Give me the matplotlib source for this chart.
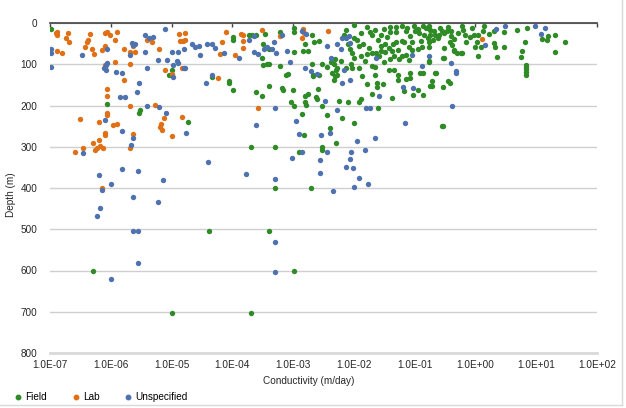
import numpy as np
import matplotlib
matplotlib.use('Agg')
import matplotlib.pyplot as plt
from matplotlib.lines import Line2D
from matplotlib.ticker import FuncFormatter, NullLocator

plt.rcParams['font.family'] = ['Liberation Sans', 'DejaVu Sans']
plt.rcParams['font.size'] = 7.2

# (log10 conductivity in m/day, depth in m)
field_points = [
    (-6.99, 14), (-5.00, 115), (-5.05, 126), (-6.06, 196), (-5.52, 210), (-5.53, 217),
    (-4.73, 240), (-6.29, 601), (-4.39, 504), (-5.00, 702), (-3.69, 702),
    (-3.99, 34), (-3.99, 42), (-3.73, 28), (-3.67, 29), (-3.61, 29), (-3.46, 26),
    (-3.49, 50), (-3.40, 64), (-3.51, 84), (-3.50, 102), (-3.43, 100), (-3.39, 99),
    (-3.21, 21), (-3.20, 29), (-2.99, 11), (-2.99, 21), (-2.99, 70), (-2.84, 68),
    (-2.76, 68), (-2.81, 50), (-2.69, 28), (-2.66, 45), (-2.58, 44), (-2.69, 100),
    (-2.53, 100), (-3.22, 104), (-3.11, 126), (-3.09, 124), (-2.68, 126), (-2.67, 129),
    (-2.58, 126), (-4.06, 140), (-4.06, 145), (-4.33, 131), (-3.99, 162), (-3.61, 168),
    (-3.52, 178), (-3.39, 152), (-3.18, 157), (-3.17, 163), (-3.00, 163), (-2.75, 172),
    (-2.80, 177), (-2.62, 180), (-2.60, 185), (-2.59, 161), (-3.04, 191), (-2.98, 201),
    (-2.80, 191), (-2.78, 199), (-2.52, 201), (-2.85, 220),
    (-3.69, 301), (-3.29, 301), (-3.29, 401), (-3.39, 504), (-2.99, 601), (-2.82, 271),
    (-2.91, 313), (-2.70, 401), (-2.52, 301), (-2.53, 308),
    (-2.39, 255), (-2.29, 290), (-0.55, 250),
    (-2.00, 5), (-1.78, 10), (-1.65, 18), (-1.51, 14), (-1.40, 10), (-1.40, 21),
    (-1.30, 10), (-1.30, 21), (-1.30, 45), (-1.21, 44), (-1.73, 21), (-1.70, 28),
    (-1.89, 24), (-2.13, 16), (-2.17, 29), (-2.00, 36), (-1.92, 56), (-2.06, 64),
    (-2.03, 72), (-2.00, 86), (-2.09, 52), (-1.89, 80), (-1.78, 75), (-1.70, 72),
    (-1.64, 72), (-1.59, 80), (-1.56, 68), (-1.49, 70), (-1.48, 52), (-1.37, 68),
    (-1.34, 80), (-1.28, 66), (-1.40, 88), (-2.31, 88), (-2.22, 91), (-2.45, 107),
    (-2.31, 129), (-2.33, 139), (-2.28, 108), (-2.13, 110), (-2.03, 108), (-1.92, 108),
    (-1.81, 91), (-1.70, 104), (-1.65, 107), (-1.78, 149), (-1.86, 129), (-1.65, 126),
    (-1.62, 146), (-1.62, 155), (-1.52, 147), (-1.43, 114), (-1.34, 115), (-1.28, 125),
    (-1.28, 139), (-1.71, 173), (-1.89, 185), (-1.92, 191), (-2.09, 191), (-2.25, 188),
    (-1.61, 206), (-2.19, 230), (-2.45, 224), (-2.00, 242), (-1.37, 181),
    (-1.95, 40), (-1.85, 50), (-1.60, 40), (-1.55, 55), (-1.45, 35), (-2.05, 100),
    (-1.75, 60), (-1.50, 95), (-2.38, 95), (-2.33, 100), (-2.30, 115), (-2.36, 120),
    (-2.27, 125), (-1.42, 60), (-1.35, 50), (-1.25, 88), (-1.55, 30),
    (-1.21, 8), (-1.15, 20), (-1.18, 45), (-1.01, 8), (-0.99, 20), (-1.07, 32),
    (-1.04, 45), (-1.10, 57), (-1.15, 77), (-1.10, 89), (-1.21, 79), (-0.93, 24),
    (-0.87, 8), (-0.82, 12), (-0.77, 8), (-0.74, 16), (-0.68, 20), (-0.66, 28),
    (-0.74, 28), (-0.78, 36), (-0.77, 45), (-0.88, 57), (-0.76, 57), (-0.76, 93),
    (-0.52, 85), (-0.52, 61), (-0.60, 28), (-0.55, 20), (-0.52, 24), (-0.47, 20),
    (-0.41, 20), (-0.40, 32), (-0.42, 45), (-0.38, 53), (-0.35, 65), (-0.30, 73),
    (-0.22, 73), (-0.22, 8), (-0.21, 16), (-0.17, 28), (-0.09, 34), (-0.03, 28),
    (0.05, 28), (0.00, 58), (0.09, 58), (0.04, 81), (0.14, 8), (0.22, 27),
    (0.30, 20), (0.31, 49), (0.32, 57), (0.47, 22), (0.47, 59), (0.35, 83),
    (0.69, 16), (0.85, 12), (0.82, 46), (0.76, 69), (0.75, 83), (0.83, 101),
    (0.83, 106), (0.83, 112), (0.83, 118), (0.83, 125), (1.10, 38), (1.17, 42),
    (1.19, 31), (1.31, 30), (1.48, 45), (1.31, 71), (-0.53, 156), (-0.45, 140),
    (-0.42, 145), (-0.71, 140), (-0.74, 152), (-0.66, 121), (-0.95, 162), (-1.03, 174),
    (-0.86, 174), (-0.91, 120), (-1.07, 120), (-1.07, 134), (-1.14, 136), (-1.17, 164),
    (-0.54, 249), (-0.76, 94), (-0.54, 86), (-0.36, 68), (-0.23, 72), (-0.94, 62),
    (-0.65, 121), (-0.87, 121), (-0.71, 153),
    (-1.12, 12), (-0.95, 14), (-0.85, 30), (-0.70, 40), (-0.62, 36), (-0.58, 12),
    (-0.45, 10), (-0.35, 38), (-0.28, 25), (-0.15, 45), (-0.05, 12), (0.02, 45),
    (0.12, 20), (-0.90, 44), (-1.05, 65),
]

lab_points = [
    (-6.89, 21), (-6.88, 29), (-6.90, 24), (-6.71, 24), (-6.74, 37), (-6.68, 46),
    (-6.89, 68), (-6.80, 72), (-6.43, 58), (-6.38, 40), (-6.39, 45), (-6.34, 26),
    (-6.31, 64), (-6.28, 75), (-6.14, 66), (-6.10, 56), (-6.09, 24), (-6.06, 21),
    (-6.02, 29), (-5.90, 22), (-5.93, 42), (-5.79, 62), (-5.60, 71), (-5.68, 71),
    (-5.69, 100), (-5.63, 56), (-5.40, 40), (-5.32, 46), (-5.20, 62), (-4.87, 26),
    (-4.86, 44), (-4.81, 44), (-5.93, 94), (-6.10, 103), (-5.79, 137), (-6.07, 159),
    (-6.07, 178), (-5.69, 202), (-6.07, 218), (-6.07, 223), (-6.51, 232), (-6.19, 240),
    (-5.97, 248), (-5.89, 245), (-5.27, 198), (-5.12, 230), (-5.18, 245), (-5.19, 253),
    (-5.16, 259), (-4.83, 228), (-5.11, 115), (-4.82, 108), (-5.00, 123),
    (-6.59, 312), (-6.46, 303), (-6.29, 291), (-6.20, 283), (-6.26, 308), (-6.22, 302),
    (-6.18, 297), (-6.13, 302), (-6.10, 271), (-6.09, 267), (-5.68, 302), (-5.64, 269),
    (-5.00, 275), (-6.15, 401),
    (-4.78, 24), (-4.78, 42), (-4.10, 21), (-4.17, 45), (-4.21, 76), (-3.96, 78),
    (-3.86, 26), (-3.83, 29), (-3.83, 44), (-3.82, 60), (-3.51, 18), (-3.21, 32),
    (-2.83, 14), (-2.82, 24), (-2.85, 36), (-4.23, 133), (-3.58, 206),
    (-2.43, 20), (0.11, 38),
]

unspecified_points = [
    (-6.99, 62), (-6.99, 72), (-6.99, 107), (-6.48, 78), (-6.07, 62), (-6.07, 98),
    (-6.08, 103), (-6.11, 110), (-6.08, 115), (-5.92, 118), (-5.81, 121), (-5.65, 48),
    (-5.60, 52), (-5.63, 54), (-5.43, 70), (-5.54, 146), (-5.57, 167), (-5.85, 179),
    (-5.77, 179), (-5.41, 108), (-5.43, 28), (-5.37, 36), (-5.30, 34), (-5.11, 14),
    (-5.22, 90), (-5.07, 90), (-4.99, 70), (-4.90, 70), (-4.91, 91), (-4.89, 98),
    (-4.97, 102), (-4.98, 131), (-4.80, 64), (-4.80, 108), (-5.41, 201), (-5.20, 204),
    (-5.09, 219), (-6.09, 235), (-5.68, 77),
    (-6.45, 316), (-6.19, 368), (-6.14, 405), (-6.17, 449), (-6.23, 468), (-6.00, 391),
    (-5.82, 355), (-5.81, 261), (-5.63, 279), (-5.66, 296), (-5.56, 358), (-5.63, 421),
    (-5.23, 433), (-5.14, 380), (-4.76, 267), (-4.40, 336), (-5.63, 504), (-5.56, 504),
    (-5.56, 581), (-6.00, 621), (-3.77, 366), (-3.61, 247), (-3.29, 378), (-3.29, 604),
    (-3.02, 327), (-2.91, 270), (-2.85, 313), (-2.55, 332), (-2.55, 363), (-2.54, 271),
    (-3.29, 532),
    (-4.66, 52), (-4.61, 57), (-4.55, 56), (-4.53, 78), (-4.41, 52), (-4.34, 52),
    (-4.29, 60), (-4.13, 73), (-3.89, 84), (-4.78, 110), (-4.33, 127), (-4.43, 145),
    (-3.73, 40), (-3.65, 32), (-3.65, 71), (-3.57, 75), (-3.48, 64), (-3.43, 59),
    (-3.34, 64), (-3.28, 73), (-3.32, 45), (-3.19, 28), (-3.10, 67), (-3.05, 94),
    (-2.85, 20), (-2.78, 26), (-2.81, 110), (-2.71, 116), (-2.60, 123), (-3.30, 206),
    (-2.95, 238), (-2.47, 190),
    (-2.44, 56), (-2.28, 50), (-2.19, 36), (-2.13, 37), (-2.08, 32), (-2.22, 64),
    (-2.06, 48), (-2.37, 86), (-2.17, 115), (-2.06, 138), (-2.20, 145), (-1.64, 86),
    (-1.58, 177), (-1.80, 207), (-1.74, 207), (-2.27, 212),
    (-1.04, 77), (-0.77, 81), (-0.88, 105), (-0.40, 97), (-0.32, 116), (-0.32, 120),
    (0.15, 54), (0.33, 14), (0.49, 7), (0.98, 7), (1.14, 12), (1.08, 26),
    (-1.19, 154), (-1.03, 158), (-0.39, 200), (-1.16, 242),
    (-2.40, 266), (-1.95, 285), (-1.66, 278), (-2.44, 312), (-2.04, 312), (-1.82, 308),
    (-2.07, 329), (-2.13, 349), (-2.02, 352), (-1.92, 375), (-1.77, 391), (-2.00, 397),
    (-2.35, 407),
]

series = [
    ('Field', field_points, '#2e8b26'),
    ('Lab', lab_points, '#e07016'),
    ('Unspecified', unspecified_points, '#4e72b0'),
]

x_ticks = [1e-7, 1e-6, 1e-5, 1e-4, 1e-3, 1e-2, 1e-1, 1e0, 1e1, 1e2]
y_ticks = [0, 100, 200, 300, 400, 500, 600, 700, 800]

fig = plt.figure(figsize=(6.26, 4.08), dpi=100)
ax = fig.add_axes([50 / 626, 1 - 353 / 408, 547 / 626, 330 / 408])

for name, pts, color in series:
    logk, depth = zip(*pts)
    ax.scatter(10.0 ** np.array(logk), depth, s=15, color=color, linewidths=0, zorder=3, label=name)

ax.set_xscale('log')
ax.set_xlim(1e-7, 1e2)
ax.set_ylim(800, 0)
ax.set_xticks(x_ticks)
ax.xaxis.set_minor_locator(NullLocator())
ax.xaxis.set_major_formatter(FuncFormatter(lambda v, p: f'{v:.1E}'))
ax.set_yticks(y_ticks)

ax.tick_params(axis='x', which='major', top=True, bottom=False, labeltop=False,
               labelbottom=True, direction='in', length=3, width=1, color='#404040',
               pad=5, labelcolor='#262626')
ax.tick_params(axis='y', length=0, pad=9, labelcolor='#262626')

ax.yaxis.grid(True, color='#cfcfcf', lw=1)
ax.set_axisbelow(True)
for side in ['left', 'right']:
    ax.spines[side].set_visible(False)
ax.spines['top'].set_color('#404040')
ax.spines['top'].set_linewidth(1.2)
ax.spines['bottom'].set_color('#d9d9d9')
ax.spines['bottom'].set_linewidth(2)

fig.text(309 / 626, 1 - 381 / 408, 'Conductivity (m/day)', ha='center', va='center', color='#262626')
fig.text(11 / 626, 1 - 195 / 408, 'Depth (m)', rotation=90, ha='center', va='center', color='#262626')

handles = [Line2D([], [], marker='o', ls='', color=c, markersize=3.2) for _, _, c in series]
fig.legend(handles, [n for n, _, _ in series], loc='center left',
           bbox_to_anchor=(0.005, 1 - 397 / 408), ncol=3, frameon=False,
           handletextpad=0.1, columnspacing=2.3, handlelength=1.2)

# chart area border on the right and bottom
fig.add_artist(Line2D([622 / 626, 622 / 626], [3 / 408, 1], color='#d9d9d9', lw=1))
fig.add_artist(Line2D([0, 622 / 626], [3 / 408, 3 / 408], color='#d9d9d9', lw=1))

fig.savefig('out.png', dpi=100)
